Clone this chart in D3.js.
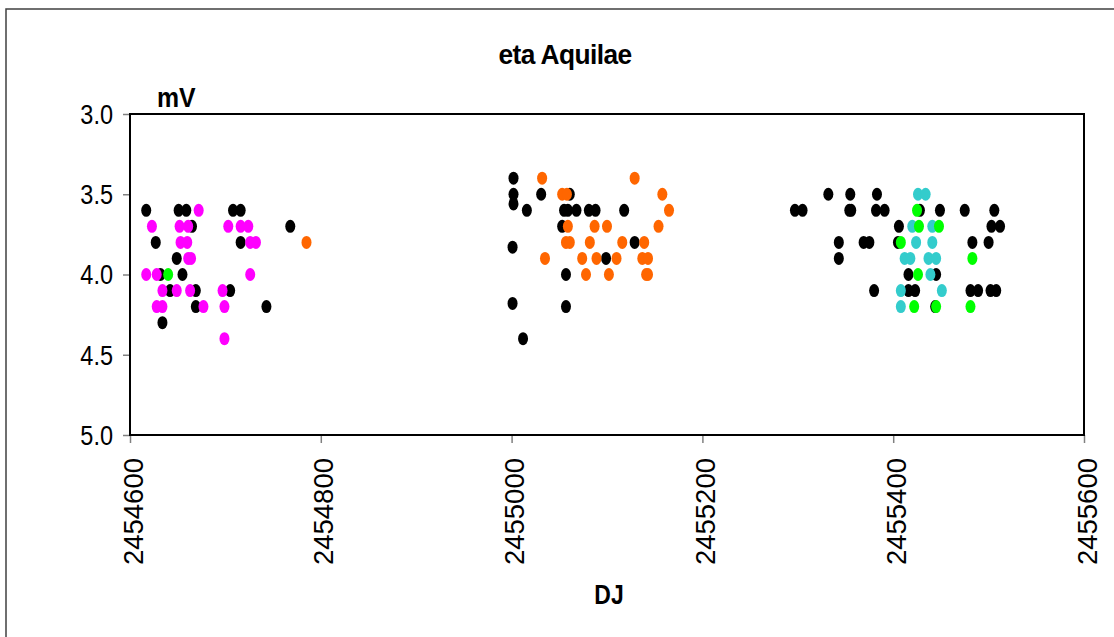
<!DOCTYPE html>
<html>
<head>
<meta charset="utf-8">
<script src="https://cdn.jsdelivr.net/npm/d3@7"></script>
<style>
  html, body { margin: 0; padding: 0; background: #fff; }
  svg { display: block; font-family: "Liberation Sans", Arial, sans-serif; }
</style>
</head>
<body>
<svg id="chart" width="1114" height="637"></svg>
<script>
// ---- data (JD, magnitude) ----
const blackSeries = [
  [2454617,3.6],[2454651,3.6],[2454659,3.6],[2454708,3.6],[2454716,3.6],
  [2454665,3.7],[2454768,3.7],[2454627,3.8],[2454716,3.8],[2454649,3.9],
  [2454632,4.0],[2454655,4.0],[2454642,4.1],[2454669,4.1],[2454705,4.1],
  [2454669,4.2],[2454743,4.2],[2454634,4.3],
  [2455002,3.4],[2455002,3.5],[2455031,3.5],[2455061,3.5],[2455002,3.56],
  [2455016,3.6],[2455055,3.6],[2455059,3.6],[2455068,3.6],[2455081,3.6],
  [2455088,3.6],[2455118,3.6],[2455053,3.7],[2455129,3.8],[2455001,3.83],
  [2455099,3.9],[2455057,4.0],[2455001,4.18],[2455057,4.2],[2455012,4.4],
  [2455332,3.5],[2455355,3.5],[2455383,3.5],
  [2455297,3.6],[2455305,3.6],[2455354,3.6],[2455356,3.6],[2455382,3.6],
  [2455391,3.6],[2455428,3.6],[2455449,3.6],[2455475,3.6],[2455506,3.6],
  [2455406,3.7],[2455503,3.7],[2455512,3.7],
  [2455343,3.8],[2455369,3.8],[2455375,3.8],[2455405,3.8],[2455483,3.8],[2455500,3.8],
  [2455343,3.9],[2455416,4.0],[2455445,4.0],
  [2455380,4.1],[2455416,4.1],[2455423,4.1],[2455481,4.1],[2455489,4.1],
  [2455502,4.1],[2455508,4.1],[2455444,4.2]
];
const magentaSeries = [
  [2454672,3.6],
  [2454623,3.7],[2454652,3.7],[2454661,3.7],[2454703,3.7],[2454716,3.7],[2454724,3.7],
  [2454653,3.8],[2454660,3.8],[2454726,3.8],[2454732,3.8],
  [2454661,3.9],[2454664,3.9],
  [2454617,4.0],[2454628,4.0],[2454726,4.0],
  [2454634,4.1],[2454649,4.1],[2454663,4.1],[2454697,4.1],
  [2454628,4.2],[2454634,4.2],[2454677,4.2],[2454699,4.2],
  [2454699,4.4]
];
const orangeSeries = [
  [2454785,3.8],
  [2455032,3.4],[2455129,3.4],
  [2455053,3.5],[2455058,3.5],[2455158,3.5],
  [2455165,3.6],
  [2455059,3.7],[2455087,3.7],[2455100,3.7],[2455154,3.7],
  [2455057,3.8],[2455061,3.8],[2455082,3.8],[2455116,3.8],[2455139,3.8],
  [2455035,3.9],[2455074,3.9],[2455089,3.9],[2455110,3.9],[2455137,3.9],[2455143,3.9],
  [2455078,4.0],[2455102,4.0],[2455141,4.0],[2455143,4.0]
];
const cyanSeries = [
  [2455426,3.5],[2455434,3.5],
  [2455420,3.7],[2455441,3.7],
  [2455424,3.8],[2455441,3.8],
  [2455412,3.9],[2455418,3.9],[2455437,3.9],[2455445,3.9],
  [2455439,4.0],
  [2455408,4.1],[2455451,4.1],
  [2455408,4.2]
];
const greenSeries = [
  [2454640,4.0],
  [2455425,3.6],[2455427,3.7],[2455448,3.7],[2455408,3.8],[2455483,3.9],
  [2455426,4.0],[2455422,4.2],[2455445,4.2],[2455481,4.2]
];
const xTicks = [2454600,2454800,2455000,2455200,2455400,2455600];
const yTicks = [3.0,3.5,4.0,4.5,5.0];

const series = [
  {data: blackSeries, color: "#000000"},
  {data: magentaSeries, color: "#FF00FF"},
  {data: orangeSeries, color: "#FF6600"},
  {data: cyanSeries, color: "#33CCCC"},
  {data: greenSeries, color: "#00FF00"}
];

const svg = d3.select("#chart");
const L = 130, R = 1084, T = 114, B = 435;

// outer frame
svg.append("rect").attr("x", 6).attr("y", 9).attr("width", 1200).attr("height", 700)
  .attr("fill", "#fff").attr("stroke", "#404040").attr("stroke-width", 1.5);

const x = d3.scaleLinear().domain([2454600, 2455600]).range([L, R]);
const y = d3.scaleLinear().domain([3.0, 5.0]).range([T, B]);

// plot frame
svg.append("rect").attr("x", L).attr("y", T).attr("width", R - L).attr("height", B - T)
  .attr("fill", "#fff").attr("stroke", "#000").attr("stroke-width", 2);

// y axis
const yAxis = svg.append("g").attr("transform", `translate(${L},0)`)
  .call(d3.axisLeft(y).tickValues(yTicks).tickFormat(d3.format(".1f")).tickSize(7).tickPadding(0));
yAxis.select(".domain").remove();
yAxis.selectAll(".tick line").attr("stroke", "#808080").attr("stroke-width", 1.5);
yAxis.selectAll(".tick text")
  .attr("x", -17 / 0.87).attr("dy", "0.35em")
  .attr("transform", "scale(0.87,1)")
  .attr("font-size", 27).attr("fill", "#000").attr("font-family", "Liberation Sans, Arial, sans-serif");

// x axis
const xAxis = svg.append("g").attr("transform", `translate(0,${B})`)
  .call(d3.axisBottom(x).tickValues(xTicks).tickFormat(d3.format("d")).tickSize(8));
xAxis.select(".domain").remove();
xAxis.selectAll(".tick line").attr("stroke", "#808080").attr("stroke-width", 1.5);
xAxis.selectAll(".tick text")
  .attr("transform", "rotate(-90)")
  .attr("x", -23).attr("y", 12).attr("dy", 0)
  .attr("text-anchor", "end")
  .attr("font-size", 27.5).attr("fill", "#000").attr("font-family", "Liberation Sans, Arial, sans-serif");

// points
series.forEach(s => {
  svg.append("g").selectAll("ellipse").data(s.data).join("ellipse")
    .attr("cx", d => x(d[0])).attr("cy", d => y(d[1]))
    .attr("rx", 5).attr("ry", 6.5)
    .attr("fill", s.color);
});

// redraw frame lines on top
svg.append("rect").attr("x", L).attr("y", T).attr("width", R - L).attr("height", B - T)
  .attr("fill", "none").attr("stroke", "#000").attr("stroke-width", 2);

// title and axis titles
svg.append("g").attr("transform", "translate(565,64) scale(0.94,1)")
  .append("text").attr("text-anchor", "middle")
  .attr("font-size", 28).attr("font-weight", "bold").attr("letter-spacing", -0.6).text("eta Aquilae");

svg.append("g").attr("transform", "translate(157,107) scale(0.92,1)")
  .append("text").attr("font-size", 27).attr("font-weight", "bold").text("mV");

svg.append("g").attr("transform", "translate(609,604) scale(0.82,1)")
  .append("text").attr("text-anchor", "middle").attr("font-size", 28).attr("font-weight", "bold").text("DJ");
</script>
</body>
</html>
